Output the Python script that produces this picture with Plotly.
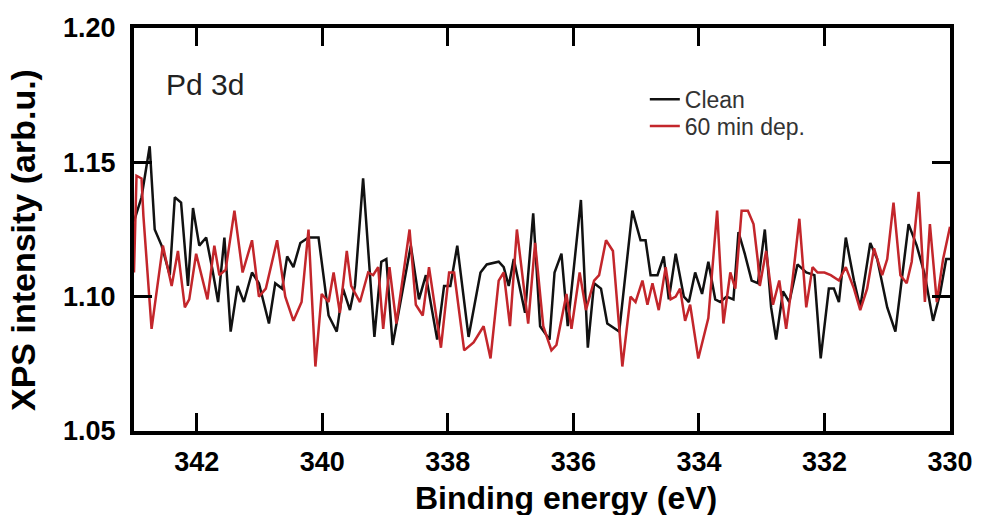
import plotly.graph_objects as go

# Clean (black) trace: binding energy (eV) and intensity
clean_energy = [343.00, 342.88, 342.75, 342.67, 342.56, 342.43, 342.35, 342.25, 342.14, 342.06,
                341.96, 341.85, 341.75, 341.66, 341.56, 341.46, 341.35, 341.25, 341.12, 341.01,
                340.85, 340.75, 340.64, 340.56, 340.46, 340.35, 340.22, 340.06, 339.96, 339.90,
                339.77, 339.67, 339.56, 339.48, 339.35, 339.17, 339.06, 338.98, 338.88, 338.77,
                338.59, 338.46, 338.35, 338.17, 338.06, 337.96, 337.85, 337.67, 337.48, 337.38,
                337.19, 337.11, 337.03, 336.95, 336.77, 336.64, 336.53, 336.38, 336.30, 336.19,
                336.09, 335.88, 335.77, 335.67, 335.56, 335.46, 335.27, 335.06, 334.93, 334.85,
                334.77, 334.66, 334.56, 334.48, 334.37, 334.24, 334.16, 334.06, 333.95, 333.85,
                333.74, 333.66, 333.56, 333.45, 333.37, 333.27, 333.16, 333.06, 332.95, 332.85,
                332.77, 332.66, 332.56, 332.43, 332.29, 332.16, 332.06, 331.93, 331.85, 331.77,
                331.66, 331.53, 331.43, 331.27, 331.16, 331.00, 330.87, 330.66, 330.53, 330.40,
                330.27, 330.16, 330.06, 330.00]
clean_int = [1.128, 1.137, 1.156, 1.125, 1.119, 1.108, 1.137, 1.135, 1.104, 1.133,
             1.119, 1.122, 1.110, 1.098, 1.122, 1.087, 1.104, 1.098, 1.109, 1.105,
             1.090, 1.105, 1.103, 1.115, 1.111, 1.120, 1.122, 1.122, 1.104, 1.093,
             1.087, 1.103, 1.095, 1.104, 1.144, 1.085, 1.113, 1.114, 1.082, 1.096,
             1.119, 1.099, 1.108, 1.084, 1.104, 1.104, 1.119, 1.085, 1.109, 1.112,
             1.113, 1.111, 1.104, 1.114, 1.094, 1.131, 1.089, 1.084, 1.109, 1.116,
             1.089, 1.136, 1.081, 1.105, 1.103, 1.090, 1.087, 1.132, 1.121, 1.121,
             1.108, 1.108, 1.115, 1.099, 1.116, 1.100, 1.098, 1.109, 1.101, 1.113,
             1.099, 1.098, 1.100, 1.099, 1.124, 1.116, 1.106, 1.105, 1.125, 1.096,
             1.084, 1.102, 1.098, 1.112, 1.109, 1.108, 1.077, 1.103, 1.103, 1.098,
             1.122, 1.106, 1.096, 1.120, 1.114, 1.096, 1.087, 1.127, 1.119, 1.108,
             1.091, 1.101, 1.114, 1.114]

# 60 min deposition (red) trace
dep_energy = [343.00, 342.96, 342.88, 342.85, 342.72, 342.54, 342.40, 342.30, 342.19, 342.12,
              342.01, 341.83, 341.72, 341.64, 341.54, 341.40, 341.27, 341.12, 341.01, 340.90,
              340.72, 340.59, 340.46, 340.33, 340.22, 340.11, 340.01, 339.90, 339.82, 339.72,
              339.61, 339.54, 339.40, 339.27, 339.19, 339.11, 339.03, 338.93, 338.82, 338.61,
              338.51, 338.40, 338.30, 338.11, 337.98, 337.90, 337.74, 337.59, 337.43, 337.32,
              337.19, 337.11, 337.01, 336.90, 336.72, 336.61, 336.48, 336.35, 336.27, 336.11,
              336.03, 335.90, 335.80, 335.67, 335.59, 335.48, 335.37, 335.22, 335.09, 335.01,
              334.90, 334.82, 334.74, 334.64, 334.53, 334.45, 334.37, 334.30, 334.22, 334.14,
              334.01, 333.85, 333.71, 333.61, 333.50, 333.42, 333.32, 333.22, 333.13, 333.06,
              333.03, 332.93, 332.82, 332.72, 332.61, 332.51, 332.40, 332.29, 332.19, 332.11,
              332.00, 331.90, 331.77, 331.66, 331.53, 331.43, 331.32, 331.21, 331.08, 331.00,
              330.90, 330.79, 330.69, 330.61, 330.50, 330.40, 330.32, 330.21, 330.11, 330.00]
dep_int = [1.109, 1.145, 1.144, 1.130, 1.088, 1.119, 1.104, 1.117, 1.096, 1.099,
           1.116, 1.099, 1.119, 1.108, 1.110, 1.132, 1.109, 1.121, 1.100, 1.103,
           1.121, 1.100, 1.091, 1.098, 1.125, 1.074, 1.101, 1.098, 1.109, 1.094,
           1.117, 1.104, 1.098, 1.109, 1.108, 1.111, 1.088, 1.111, 1.090, 1.125,
           1.097, 1.093, 1.111, 1.081, 1.109, 1.109, 1.080, 1.083, 1.089, 1.077,
           1.106, 1.109, 1.089, 1.125, 1.090, 1.120, 1.089, 1.080, 1.082, 1.101,
           1.088, 1.109, 1.095, 1.106, 1.108, 1.121, 1.117, 1.074, 1.100, 1.098,
           1.106, 1.097, 1.105, 1.095, 1.111, 1.099, 1.100, 1.103, 1.091, 1.097,
           1.077, 1.092, 1.132, 1.090, 1.109, 1.103, 1.132, 1.132, 1.127, 1.113,
           1.104, 1.117, 1.097, 1.106, 1.088, 1.106, 1.129, 1.096, 1.111, 1.109,
           1.109, 1.108, 1.106, 1.111, 1.103, 1.095, 1.103, 1.118, 1.108, 1.114,
           1.135, 1.108, 1.105, 1.113, 1.139, 1.098, 1.127, 1.098, 1.114, 1.126]

x_ticks = [342, 340, 338, 336, 334, 332, 330]
y_ticks = [1.05, 1.10, 1.15, 1.20]

FONT = "Liberation Sans, Arial, sans-serif"

fig = go.Figure()
fig.add_trace(go.Scatter(x=clean_energy, y=clean_int, mode="lines", name="Clean",
                         line=dict(color="#111111", width=2.5),
                         legend="legend", showlegend=True))
fig.add_trace(go.Scatter(x=dep_energy, y=dep_int, mode="lines", name="60 min dep.",
                         line=dict(color="#C3262B", width=2.5),
                         legend="legend2", showlegend=True))

axis_common = dict(showline=True, linewidth=4, linecolor="black", mirror="ticks",
                   ticks="inside", ticklen=18, tickwidth=3, tickcolor="black",
                   showgrid=False, zeroline=False,
                   tickfont=dict(family=FONT, size=27, color="black", weight="bold"))

fig.update_xaxes(range=[343, 330], tickvals=x_ticks, ticktext=[str(v) for v in x_ticks],
                 ticklabelstandoff=4, **axis_common)
fig.update_yaxes(range=[1.05, 1.20], tickvals=y_ticks, tickformat=".2f",
                 ticklabelstandoff=9, **axis_common)

title_font = dict(family=FONT, size=32, color="black", weight="bold")
fig.add_annotation(text="Binding energy (eV)", xref="paper", yref="paper",
                   x=0.529, y=-0.166, xanchor="center", yanchor="middle",
                   showarrow=False, font=title_font)
fig.add_annotation(text="XPS intensity (arb.u.)", xref="paper", yref="paper",
                   x=-0.136, y=0.474, xanchor="center", yanchor="middle",
                   textangle=-90, showarrow=False,
                   font=dict(family=FONT, size=34, color="black", weight="bold"))

fig.add_annotation(text="Pd 3d", xref="paper", yref="paper", x=0.037, y=0.86,
                   xanchor="left", yanchor="middle", showarrow=False,
                   font=dict(family=FONT, size=30, color="#222222"))

legend_style = dict(xanchor="left", yanchor="middle", bgcolor="rgba(0,0,0,0)",
                    borderwidth=0, itemwidth=30, visible=True,
                    font=dict(family=FONT, size=23, color="#333333"))

fig.update_layout(
    width=985, height=515,
    margin=dict(l=134, r=29, t=28, b=84),
    plot_bgcolor="white", paper_bgcolor="white",
    font=dict(family=FONT),
    showlegend=True,
    legend=dict(x=0.626, y=0.823, **legend_style),
    legend2=dict(x=0.626, y=0.757, **legend_style),
)

fig.write_html("out.html")
